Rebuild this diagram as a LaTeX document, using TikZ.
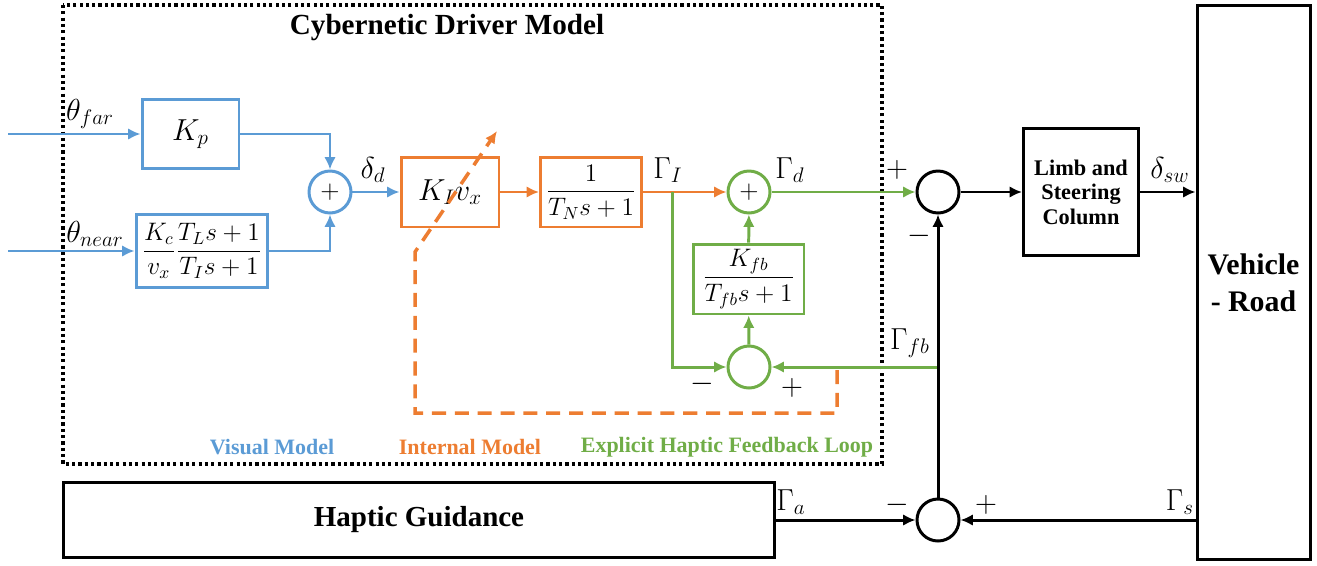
\documentclass[tikz,border=0pt]{standalone}
\usepackage{amsmath}
\usepackage{fontspec}
\setmainfont{Liberation Serif}
\usetikzlibrary{arrows.meta,positioning}
\definecolor{cblue}{RGB}{91,155,213}
\definecolor{corange}{RGB}{237,125,49}
\definecolor{cgreen}{RGB}{112,173,71}

\begin{document}
\begin{tikzpicture}[x=0.02cm,y=-0.02cm,line width=1.7pt,
 >={Latex[length=7pt,width=6.5pt]},
 box/.style={draw,inner sep=0pt,font=\fontsize{17}{20}\selectfont},
 fracbox/.style={box,font=\fontsize{14.5}{17}\selectfont},
 sumc/.style={draw,circle,minimum size=0.84cm,inner sep=0pt,font=\fontsize{14}{16}\selectfont},
 lbl/.style={font=\fontsize{18}{20}\selectfont,inner sep=0pt},
 sgn/.style={font=\fontsize{16}{18}\selectfont,inner sep=0pt},
 captxt/.style={font=\fontsize{12.5}{15}\selectfont\bfseries,inner sep=0pt}]
\useasboundingbox (0,0) rectangle (1317,565);
% driver model frame
\draw[line width=2pt,dash pattern=on 1.8pt off 1.8pt] (63,5) rectangle (882,464);
\node[font=\fontsize{16.6}{19}\selectfont\bfseries] (title) at (447,28) {Cybernetic Driver Model};
% visual model
\coordinate (inF) at (8,134);
\coordinate (inN) at (8,251);
\node[box,cblue,minimum width=1.94cm,minimum height=1.38cm,text=black] (kp) at (190.5,134) {$K_p$};
\node[fracbox,cblue,minimum width=2.64cm,minimum height=1.46cm,text=black] (near) at (202,251) {$\dfrac{K_c}{v_x}\dfrac{T_L s+1}{T_I s+1}$};
\node[sumc,cblue,text=black] (sum1) at (330,192) {$+$};
\draw[cblue,->] (inF) -- (kp);
\draw[cblue,->] (inN) -- (near);
\draw[cblue,->] (kp) -| (sum1);
\draw[cblue,->] (near) -| (sum1);
\node[lbl] (thF) at (90,114) {$\theta_{far}$};
\node[lbl] (thN) at (95,234) {$\theta_{near}$};
\node[lbl] (dd) at (373,170) {$\delta_d$};
% internal model
\node[box,corange,minimum width=1.96cm,minimum height=1.4cm,text=black] (kiv) at (450,192) {$K_I v_x$};
\node[fracbox,corange,minimum width=2.02cm,minimum height=1.4cm,text=black] (tn) at (591,192) {$\dfrac{1}{T_N s+1}$};
\draw[cblue,->] (sum1) -- (kiv);
\draw[corange,->] (kiv) -- (tn);
\coordinate (br) at (672,192);
\node[sumc,cgreen,text=black] (sum2) at (749,192) {$+$};
\draw[corange,->] (tn) -- (sum2);
\node[lbl] (gI) at (668,170) {$\Gamma_I$};
\coordinate (d1) at (837,370);
\coordinate (d2) at (837,413);
\coordinate (d3) at (415,413);
\coordinate (d4) at (415,252);
\coordinate (d5) at (497,131);
\draw[corange,line width=2pt,dash pattern=on 8pt off 5pt,->] (d1) -- (d2) -- (d3) -- (d4) -- (d5);
% haptic feedback loop
\node[fracbox,cgreen,minimum width=2.22cm,minimum height=1.4cm,text=black] (kfb) at (748.5,279) {$\dfrac{K_{fb}}{T_{fb}s+1}$};
\node[sumc,cgreen] (sum3) at (749,367) {};
\coordinate (tap) at (938,367);
\draw[cgreen,->] (br) |- (sum3);
\draw[cgreen,->] (sum3) -- (kfb);
\draw[cgreen,->] (kfb) -- (sum2);
\draw[cgreen,->] (tap) -- (sum3);
\node[lbl] (gd) at (790,170) {$\Gamma_d$};
\node[sgn] (m3) at (702,384) {$-$};
\node[sgn] (p3) at (792,388) {$+$};
% steering side
\node[sumc] (sumA) at (938,192) {};
\node[sumc] (sumB) at (938,520) {};
\node[box,minimum width=2.3cm,minimum height=2.54cm,align=center,font=\fontsize{12.7}{14}\selectfont\bfseries] (limb) at (1081,192) {Limb and\\Steering\\Column};
\node[box,minimum width=2.26cm,minimum height=11.1cm,align=center,font=\fontsize{17}{21}\selectfont\bfseries] (veh) at (1253.5,282.5) {Vehicle\\- Road};
\node[box,minimum width=14.24cm,minimum height=1.5cm,font=\fontsize{16.5}{19}\selectfont\bfseries] (hap) at (419,520) {Haptic Guidance};
\draw[cgreen,->] (sum2) -- (sumA);
\draw[->] (sumB) -- (sumA);
\draw[->] (sumA) -- (limb);
\draw[->] (limb.east) -- (veh.west |- limb.east);
\draw[->] (hap.east) -- (sumB);
\draw[->] (veh.west |- sumB) -- (sumB);
\node[sgn] (pA) at (897,170) {$+$};
\node[sgn] (mA) at (919,236) {$-$};
\node[lbl] (gfb) at (910,343) {$\Gamma_{fb}$};
\node[lbl] (dsw) at (1170,170) {$\delta_{sw}$};
\node[lbl] (ga) at (791,502) {$\Gamma_a$};
\node[sgn] (mB) at (897,505) {$-$};
\node[sgn] (pB) at (986,505) {$+$};
\node[lbl] (gs) at (1180,502) {$\Gamma_s$};
% captions
\node[captxt,cblue] (cv) at (272,447) {Visual Model};
\node[captxt,corange] (ci) at (470,447) {Internal Model};
\node[captxt,cgreen] (ce) at (727,447) {Explicit Haptic Feedback Loop};
\end{tikzpicture}
\end{document}
